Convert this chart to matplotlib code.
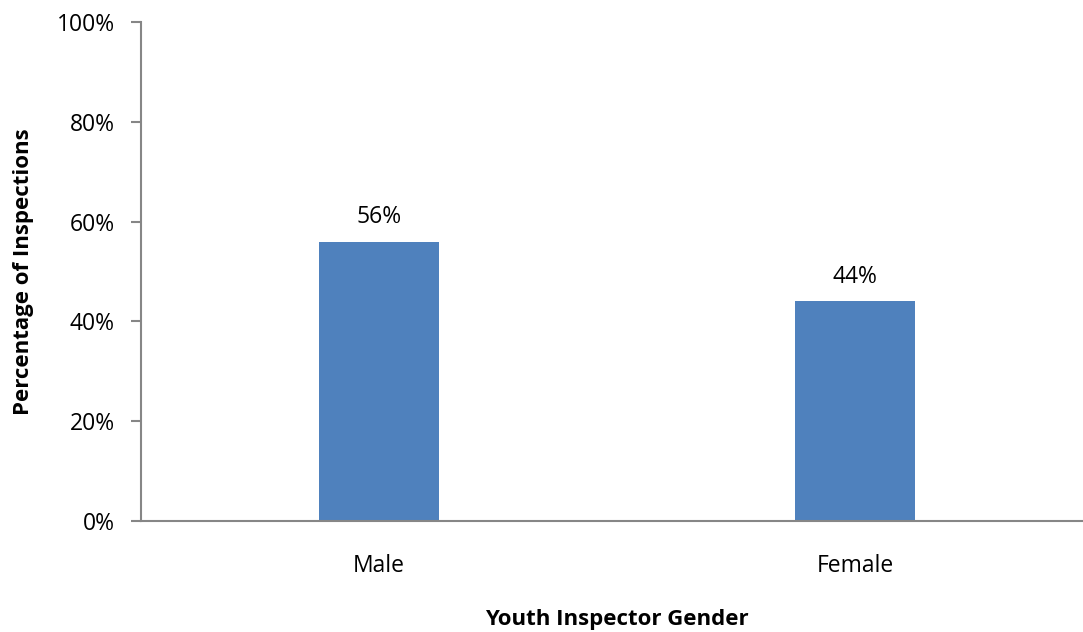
import matplotlib.pyplot as plt
from matplotlib.ticker import PercentFormatter

plt.rcParams['font.family'] = ['Open Sans', 'DejaVu Sans']

genders = ["Male", "Female"]
shares = [56, 44]
y_ticks = [0, 20, 40, 60, 80, 100]

bar_color = "#4F81BD"
axis_color = "#868686"

fig = plt.figure(figsize=(10.83, 6.32), dpi=100)
# plot area runs slightly past the right edge of the figure
ax = fig.add_axes([0.1302, 0.1756, 0.879, 0.7896])

x = range(len(genders))
ax.bar(x, shares, width=0.252, color=bar_color, zorder=2)

for xi, v in zip(x, shares):
    ax.annotate(f"{v}%", (xi, v), xytext=(0, 9), textcoords="offset points",
                ha="center", va="bottom", fontsize=16.5, color="black")

ax.set_xlim(-0.5, 1.5)
ax.set_ylim(0, 100)
ax.set_yticks(y_ticks)
ax.yaxis.set_major_formatter(PercentFormatter(decimals=0))
ax.set_xticks(list(x))
ax.set_xticklabels(genders)

for side in ("top", "right"):
    ax.spines[side].set_visible(False)
for side in ("left", "bottom"):
    ax.spines[side].set_color(axis_color)
    ax.spines[side].set_linewidth(1.5)

ax.tick_params(axis="y", length=7, width=1.5, color=axis_color, pad=12, labelsize=16.5)
ax.tick_params(axis="x", length=0, pad=24, labelsize=16.5)

ax.set_ylabel("Percentage of Inspections", fontsize=16, fontweight="bold", labelpad=16)
ax.set_xlabel("Youth Inspector Gender", fontsize=16, fontweight="bold", labelpad=22)

fig.savefig("out.png", dpi=100)
